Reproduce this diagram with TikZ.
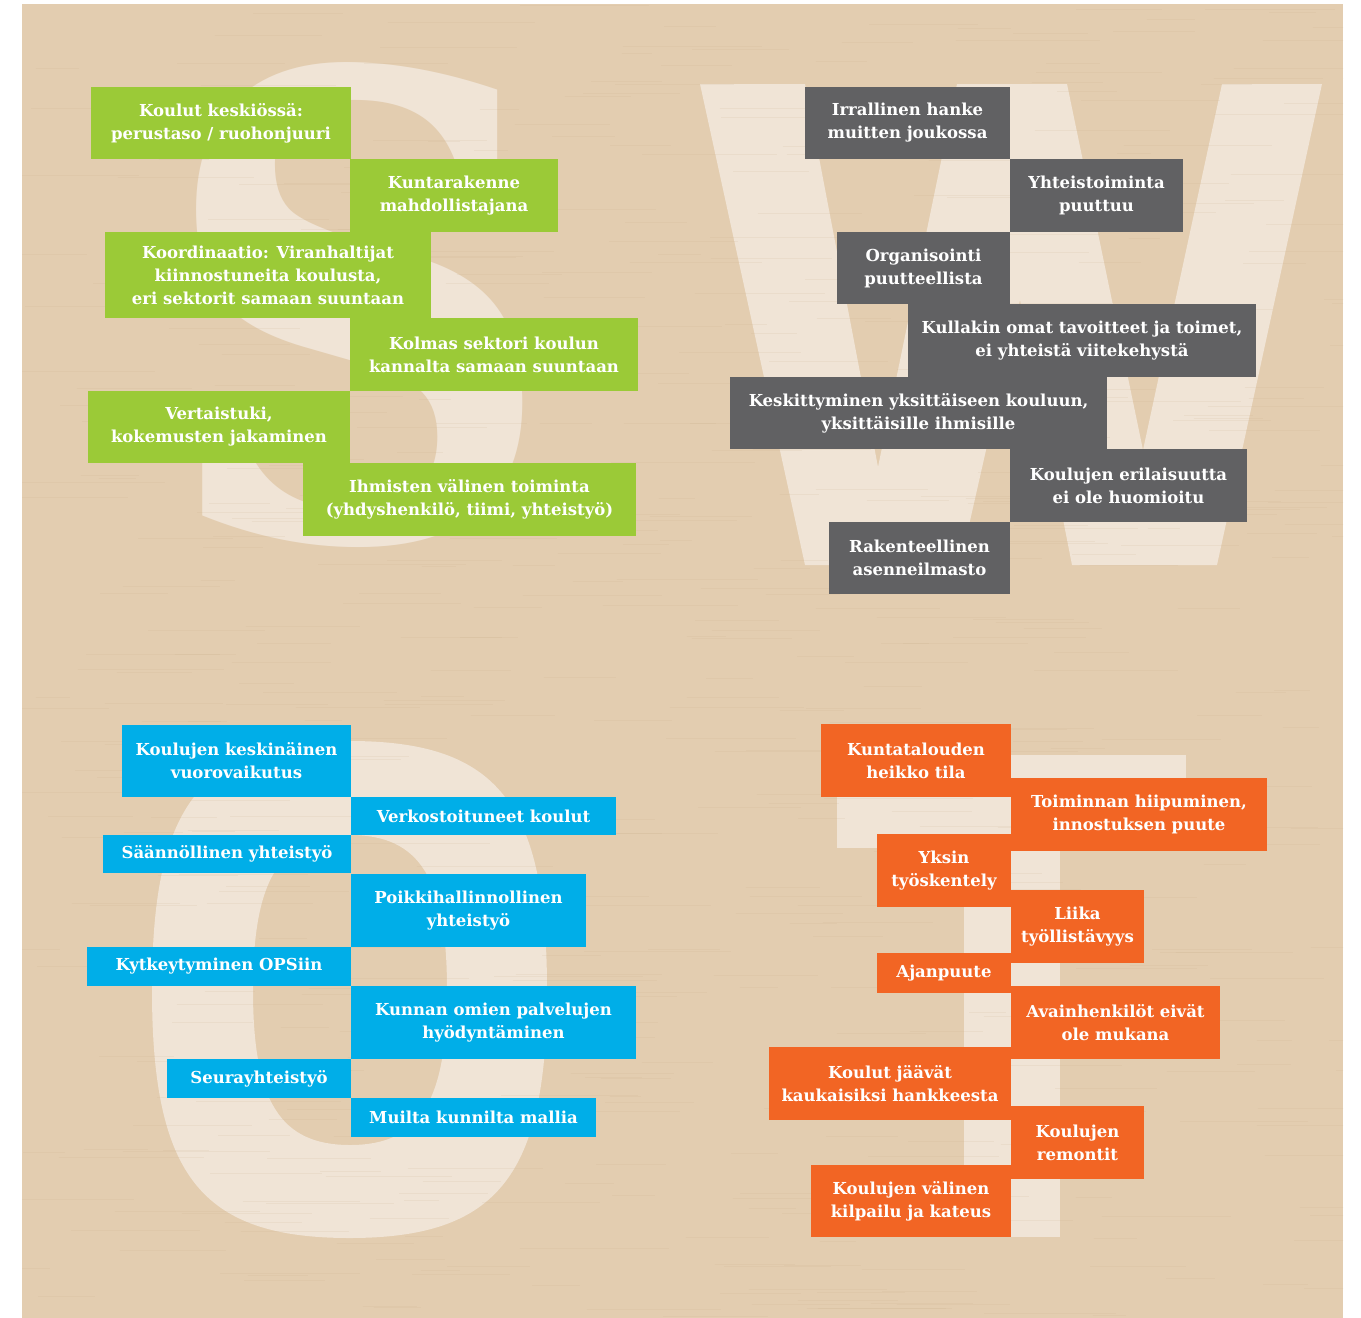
\documentclass[tikz,border=0pt]{standalone}
\usepackage{fontspec}
\setmainfont{DejaVu Serif}
\newfontfamily\bigserif{DejaVu Serif}
\definecolor{wood}{HTML}{E3CDB0}
\definecolor{grain}{HTML}{C9AE8C}
\definecolor{letter}{HTML}{F0E4D6}
\definecolor{sgreen}{HTML}{9BCA37}
\definecolor{wgray}{HTML}{616163}
\definecolor{oblue}{HTML}{00AEE8}
\definecolor{torange}{HTML}{F26524}
\newcommand\swotbox[7]{\node[#2, minimum width={(#5-#3)*1pt}, minimum height={(#6-#4)*1pt}] (#1) at ({(#3+#5)/2},{(#4+#6)/2}) {#7};}
\tikzset{
  bx/.style={rectangle, inner sep=0pt, outer sep=0pt, text=white, align=center,
    font=\bfseries\fontsize{16.5pt}{23pt}\selectfont},
  gb/.style={bx, fill=sgreen},
  wb/.style={bx, fill=wgray},
  ob/.style={bx, fill=oblue},
  tb/.style={bx, fill=torange},
  bigletter/.style={fill=letter}
}
\begin{document}
\begin{tikzpicture}[x=1pt,y=-1pt]
\useasboundingbox (0,0) rectangle (1361,1318);
\fill[white] (0,0) rectangle (1361,1318);
\fill[wood] (22,4) rectangle (1343,1318);
% big letters
\node[inner sep=0pt, outer sep=0pt, anchor=base west, text=letter, font=\bigserif\bfseries] (bigS) at (160,538) {\resizebox{395pt}{475pt}{S}};
\fill[bigletter] (700,84) -- (805,84) -- (878,467) -- (957,84) -- (1067,84) -- (1143,450) -- (1222,84) -- (1322,84) -- (1217,565) -- (1072,565) -- (1020,300) -- (960,565) -- (805,565) -- cycle;
\fill[bigletter, even odd rule]
  (152,990) .. controls (152,803) and (201.4,741) .. (349.5,741) .. controls (497.6,741) and (547,803) .. (547,990) .. controls (547,1176) and (497.6,1238) .. (349.5,1238) .. controls (201.4,1238) and (152,1176) .. (152,990) -- cycle
  (253,990) .. controls (253,878.4) and (280.2,835) .. (350,835) .. controls (419.8,835) and (447,878.4) .. (447,990) .. controls (447,1101.6) and (419.8,1145) .. (350,1145) .. controls (280.2,1145) and (253,1101.6) .. (253,990) -- cycle;
\fill[bigletter] (837,755) rectangle (1186,848);
\fill[bigletter] (964,848) rectangle (1060,1237);
% wood grain
\begin{scope}
\clip (22,4) rectangle (1343,1318);
\pgfmathsetseed{7}
\foreach \i in {1,...,600}{
  \pgfmathsetmacro\gx{10+rnd*1340}
  \pgfmathsetmacro\gy{4+rnd*1314}
  \pgfmathsetmacro\gl{30+rnd*120}
  \draw[grain, opacity=0.14, line width=0.6pt] (\gx,\gy) -- ++(\gl,0);
}
\end{scope}
% S - strengths
\swotbox{s1}{gb}{91}{87}{351}{159}{Koulut keskiössä:\\perustaso / ruohonjuuri}
\swotbox{s2}{gb}{350}{159}{558}{232}{Kuntarakenne\\mahdollistajana}
\swotbox{s3}{gb}{105}{232}{431}{318}{Koordinaatio: Viranhaltijat\\kiinnostuneita koulusta,\\eri sektorit samaan suuntaan}
\swotbox{s4}{gb}{350}{318}{638}{391}{Kolmas sektori koulun\\kannalta samaan suuntaan}
\swotbox{s5}{gb}{88}{391}{350}{463}{Vertaistuki,\\kokemusten jakaminen}
\swotbox{s6}{gb}{303}{463}{636}{536}{Ihmisten välinen toiminta\\(yhdyshenkilö, tiimi, yhteistyö)}
% W - weaknesses
\swotbox{w1}{wb}{805}{87}{1010}{159}{Irrallinen hanke\\muitten joukossa}
\swotbox{w2}{wb}{1010}{159}{1183}{232}{Yhteistoiminta\\puuttuu}
\swotbox{w3}{wb}{837}{232}{1010}{304}{Organisointi\\puutteellista}
\swotbox{w4}{wb}{908}{304}{1256}{377}{Kullakin omat tavoitteet ja toimet,\\ei yhteistä viitekehystä}
\swotbox{w5}{wb}{730}{377}{1107}{449}{Keskittyminen yksittäiseen kouluun,\\yksittäisille ihmisille}
\swotbox{w6}{wb}{1010}{449}{1247}{522}{Koulujen erilaisuutta\\ei ole huomioitu}
\swotbox{w7}{wb}{829}{522}{1010}{594}{Rakenteellinen\\asenneilmasto}
% O - opportunities
\swotbox{o1}{ob}{122}{725}{351}{797}{Koulujen keskinäinen\\vuorovaikutus}
\swotbox{o2}{ob}{351}{797}{616}{835}{Verkostoituneet koulut}
\swotbox{o3}{ob}{103}{835}{351}{873}{Säännöllinen yhteistyö}
\swotbox{o4}{ob}{351}{874}{586}{947}{Poikkihallinnollinen\\yhteistyö}
\swotbox{o5}{ob}{87}{947}{351}{986}{Kytkeytyminen OPSiin}
\swotbox{o6}{ob}{351}{986}{636}{1059}{Kunnan omien palvelujen\\hyödyntäminen}
\swotbox{o7}{ob}{167}{1059}{351}{1098}{Seurayhteistyö}
\swotbox{o8}{ob}{351}{1098}{596}{1137}{Muilta kunnilta mallia}
% T - threats
\swotbox{t1}{tb}{821}{724}{1011}{797}{Kuntatalouden\\heikko tila}
\swotbox{t2}{tb}{1011}{778}{1267}{851}{Toiminnan hiipuminen,\\innostuksen puute}
\swotbox{t3}{tb}{877}{834}{1011}{907}{Yksin\\työskentely}
\swotbox{t4}{tb}{1011}{890}{1144}{963}{Liika\\työllistävyys}
\swotbox{t5}{tb}{877}{953}{1011}{993}{Ajanpuute}
\swotbox{t6}{tb}{1011}{986}{1220}{1059}{Avainhenkilöt eivät\\ole mukana}
\swotbox{t7}{tb}{769}{1047}{1011}{1120}{Koulut jäävät\\kaukaisiksi hankkeesta}
\swotbox{t8}{tb}{1011}{1106}{1144}{1179}{Koulujen\\remontit}
\swotbox{t9}{tb}{811}{1165}{1011}{1237}{Koulujen välinen\\kilpailu ja kateus}
\end{tikzpicture}
\end{document}
